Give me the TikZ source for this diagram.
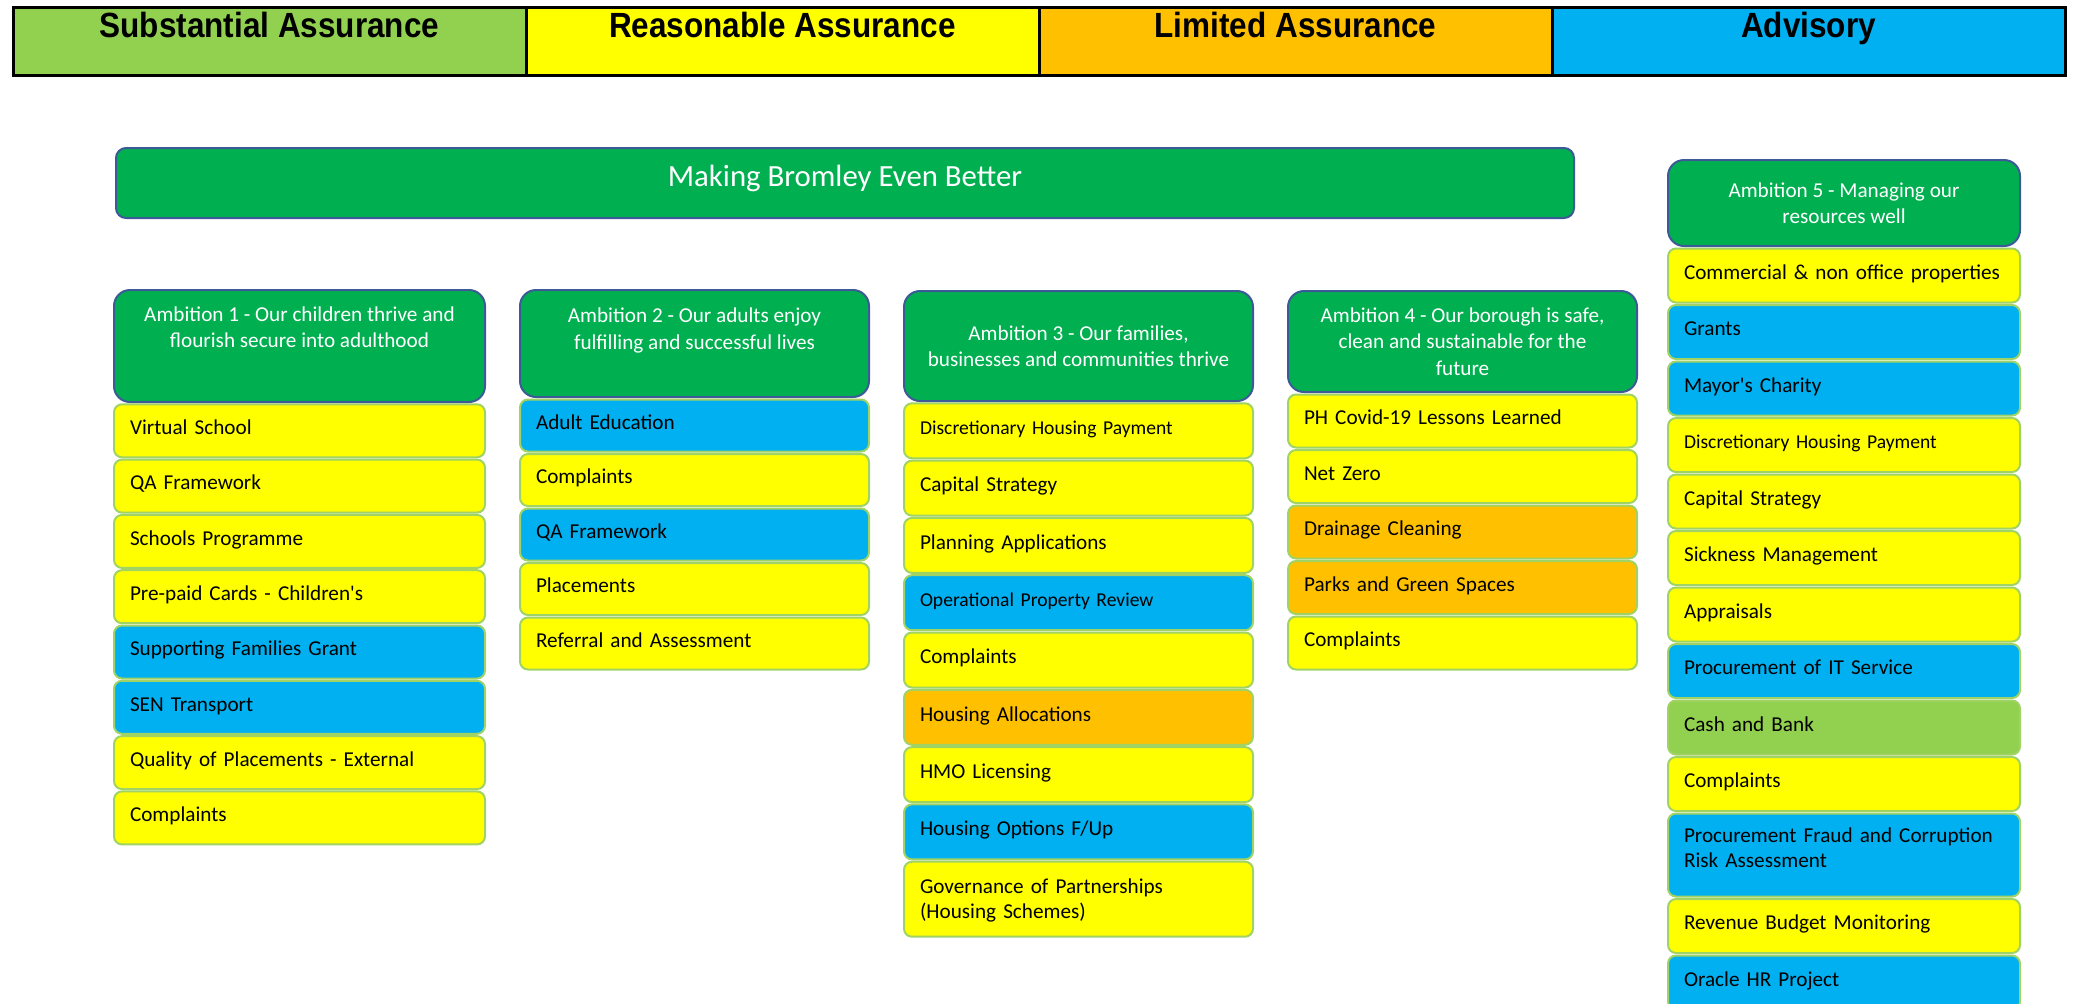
\documentclass[tikz,border=0pt]{standalone}
\usepackage{fontspec}
\setmainfont{Carlito}
\newfontfamily\hdrfont[FakeStretch=0.9]{Liberation Sans}
\usetikzlibrary{positioning}

\definecolor{sagreen}{HTML}{92D050}
\definecolor{rayellow}{HTML}{FFFF00}
\definecolor{laorange}{HTML}{FFC000}
\definecolor{advblue}{HTML}{00B0F0}
\definecolor{ambgreen}{HTML}{00B050}
\definecolor{ambedge}{RGB}{60,90,150}
\definecolor{auditedge}{RGB}{160,210,100}

\begin{document}
\begin{tikzpicture}[x=0.5pt,y=-0.5pt,
		key/.style={draw=black,line width=1.5pt,outer sep=0pt,anchor=north west,
				minimum width=256.5pt,minimum height=34pt,inner ysep=0pt,text height=15pt,
				text depth=19pt,font=\hdrfont\bfseries\fontsize{17.5}{20}\selectfont},
		amb/.style={draw=ambedge,line width=1pt,fill=ambgreen,rounded corners=8pt,
				outer sep=0pt,anchor=north west,align=center,text=white,inner ysep=2pt,
				font=\fontsize{10.6}{13.2}\selectfont},
		audit/.style={draw=auditedge,line width=1pt,rounded corners=4pt,outer sep=0pt,
				align=left,inner xsep=8pt,inner ysep=0pt,text height=8pt,text depth=4.2pt,
				font=\fontsize{10.6}{12.6}\selectfont},
		subst/.style={audit,fill=sagreen},
		reas/.style={audit,fill=rayellow},
		ltd/.style={audit,fill=laorange},
		adv/.style={audit,fill=advblue},
		reas small/.style={reas,font=\fontsize{9.8}{12}\selectfont},
		adv small/.style={adv,font=\fontsize{9.8}{12}\selectfont},
		reas tall/.style={reas,minimum height=37.5pt,text depth=13.8pt},
		adv tall/.style={adv,minimum height=41.5pt,text depth=20.3pt}]
	\useasboundingbox (0,0) rectangle (2076,1003);

	% assurance key along the top
	\node[key,fill=sagreen] (k1) at (13,7) {Substantial Assurance};
	\node[key,fill=rayellow,right=0pt of k1] (k2) {Reasonable Assurance};
	\node[key,fill=laorange,right=0pt of k2] (k3) {Limited Assurance};
	\node[key,fill=advblue,right=0pt of k3] (k4) {Advisory};

	% vision and ambitions
	\node[amb,rounded corners=5pt,minimum width=729pt,minimum height=35pt,text depth=7.5pt,
		font=\fontsize{15.4}{18}\selectfont] (vision) at (116,148) {Making Bromley Even Better};
	\node[amb,minimum width=185.5pt,minimum height=56pt,text depth=19pt,alias=a1-0] (amb1)
		at (114,290) {Ambition 1 - Our children thrive and\\flourish secure into adulthood};
	\node[amb,minimum width=174.5pt,minimum height=53.5pt,text depth=15pt,alias=a2-0] (amb2)
		at (520,290) {Ambition 2 - Our adults enjoy\\fulfilling and successful lives};
	\node[amb,minimum width=174.5pt,minimum height=55pt,alias=a3-0] (amb3)
		at (904,291) {Ambition 3 - Our families,\\businesses and communities thrive};
	\node[amb,minimum width=174.5pt,minimum height=50.5pt,alias=a4-0] (amb4)
		at (1288,291) {Ambition 4 - Our borough is safe,\\clean and sustainable for the\\future};
	\node[amb,minimum width=176pt,minimum height=43pt,alias=a5-0] (amb5)
		at (1668,160) {Ambition 5 - Managing our\\resources well};

	% audits under each ambition
	\foreach \txt/\kind [count=\i,remember=\i as \j (initially 0)] in {
			Virtual School/reas,
			QA Framework/reas,
			Schools Programme/reas,
			Pre-paid Cards - Children\textquotesingle s/reas,
			Supporting Families Grant/adv,
			SEN Transport/adv,
			Quality of Placements - External/reas,
			Complaints/reas}
		\node[audit,text width=169.5pt,minimum height=26.5pt,\kind,below=1.15pt of a1-\j] (a1-\i) {\txt};

	\foreach \txt/\kind [count=\i,remember=\i as \j (initially 0)] in {
			Adult Education/adv,
			Complaints/reas,
			QA Framework/adv,
			Placements/reas,
			Referral and Assessment/reas}
		\node[audit,text width=158.5pt,minimum height=26pt,\kind,below=1.25pt of a2-\j] (a2-\i) {\txt};

	\foreach \txt/\kind [count=\i,remember=\i as \j (initially 0)] in {
			Discretionary Housing Payment/reas small,
			Capital Strategy/reas,
			Planning Applications/reas,
			Operational Property Review/adv small,
			Complaints/reas,
			Housing Allocations/ltd,
			HMO Licensing/reas,
			{Housing Options F/Up}/adv,
			{Governance of Partnerships\\(Housing Schemes)}/reas tall}
		\node[audit,text width=158.5pt,minimum height=27.5pt,\kind,below=1.15pt of a3-\j] (a3-\i) {\txt};

	\foreach \txt/\kind [count=\i,remember=\i as \j (initially 0)] in {
			PH Covid-19 Lessons Learned/reas,
			Net Zero/reas,
			Drainage Cleaning/ltd,
			Parks and Green Spaces/ltd,
			Complaints/reas}
		\node[audit,text width=158.5pt,minimum height=26.5pt,\kind,below=1.25pt of a4-\j] (a4-\i) {\txt};

	\foreach \txt/\kind [count=\i,remember=\i as \j (initially 0)] in {
			Commercial \& non office properties/reas,
			Grants/adv,
			Mayor\textquotesingle s Charity/adv,
			Discretionary Housing Payment/reas small,
			Capital Strategy/reas,
			Sickness Management/reas,
			Appraisals/reas,
			Procurement of IT Service/adv,
			Cash and Bank/subst,
			Complaints/reas,
			{Procurement Fraud and Corruption\\Risk Assessment}/adv tall,
			Revenue Budget Monitoring/reas,
			Oracle HR Project/adv}
		\node[audit,text width=160pt,minimum height=27pt,\kind,below=1.25pt of a5-\j] (a5-\i) {\txt};
\end{tikzpicture}
\end{document}
